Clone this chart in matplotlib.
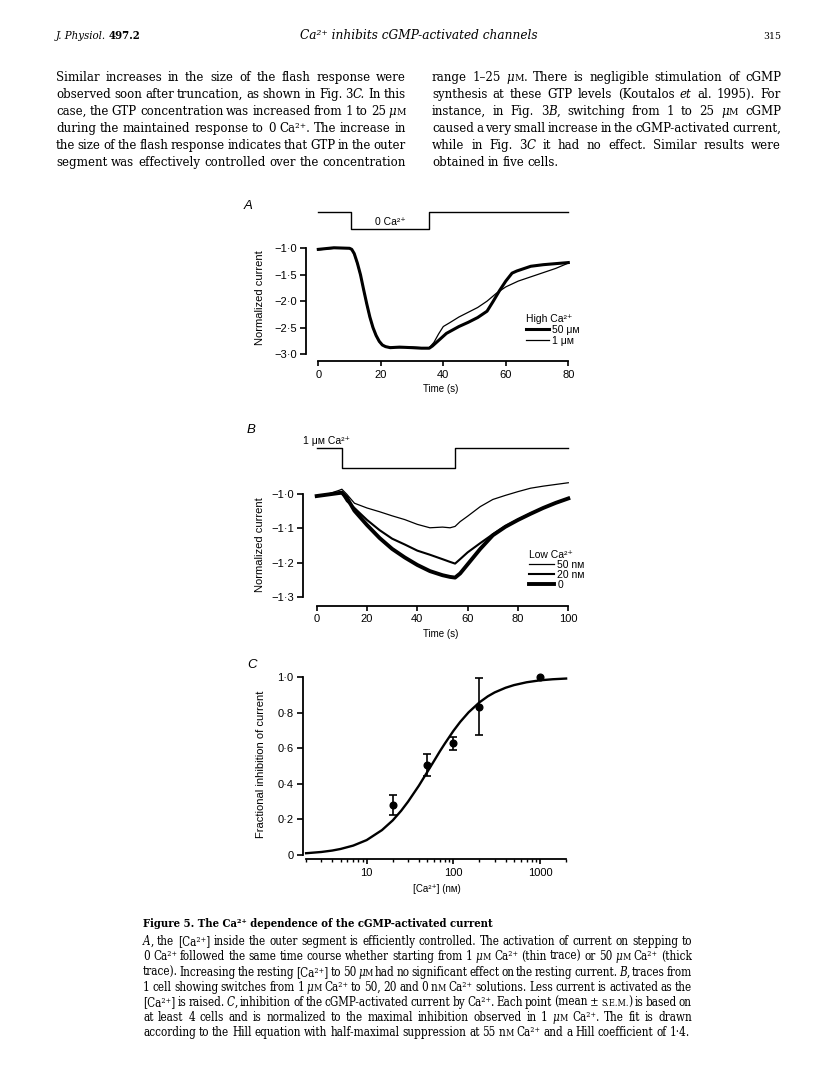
import numpy as np
import matplotlib
matplotlib.use('Agg')
import matplotlib.pyplot as plt
from matplotlib.ticker import LogLocator, NullFormatter

# ---- data ----
# A: normalized current, switching to 0 Ca2+ from 50 uM (thick) or 1 uM (thin)
a_stim_time = [0, 10.5, 35.5, 80]
a_stim_level = [1, 0, 1, 1]
a_time_50 = [0, 5, 10, 10.7, 11.5, 12.5, 13.5, 14.5, 15.5, 16.5, 17.5, 18.5, 19.5, 20.5, 21.5,
             23, 26, 30, 33, 35.5, 36.5, 38, 41, 45, 48, 51, 54, 56, 58, 60, 62, 63.5, 65,
             68, 72, 76, 80]
a_curr_50 = [-1.02, -0.99, -1.0, -1.02, -1.1, -1.28, -1.5, -1.78, -2.05, -2.3, -2.5, -2.65,
             -2.76, -2.83, -2.86, -2.88, -2.87, -2.88, -2.89, -2.89, -2.85, -2.77, -2.61,
             -2.48, -2.40, -2.31, -2.19, -2.0, -1.80, -1.62, -1.47, -1.43, -1.40, -1.34,
             -1.31, -1.29, -1.27]
a_time_1 = [0, 5, 10, 10.7, 11.5, 12.5, 13.5, 14.5, 15.5, 16.5, 17.5, 18.5, 19.5, 20.5, 21.5,
            23, 26, 30, 33, 35.5, 37, 38.5, 40, 42, 45, 48, 51, 54, 57, 60, 64, 68, 72, 76, 80]
a_curr_1 = [-1.03, -1.0, -1.0, -1.03, -1.12, -1.3, -1.52, -1.8, -2.07, -2.32, -2.52, -2.66,
            -2.77, -2.83, -2.86, -2.87, -2.88, -2.87, -2.88, -2.88, -2.78, -2.62, -2.48,
            -2.41, -2.3, -2.21, -2.12, -2.0, -1.85, -1.73, -1.62, -1.54, -1.46, -1.38, -1.28]
a_yticks = [-1.0, -1.5, -2.0, -2.5, -3.0]
a_xticks = [0, 20, 40, 60, 80]

# B: switches from 1 uM Ca2+ to 50, 20 and 0 nM
b_stim_time = [0, 10, 55, 100]
b_stim_level = [1, 0, 1, 1]
b_time = [0, 5, 9, 10, 12, 15, 20, 25, 30, 35, 40, 45, 50, 53, 55, 57, 60, 65, 70, 75, 80,
          85, 90, 95, 100]
b_curr_50nm = [-1.005, -0.998, -0.988, -0.985, -1.0, -1.026, -1.04, -1.051, -1.063, -1.074,
               -1.088, -1.098, -1.096, -1.098, -1.094, -1.08, -1.064, -1.036, -1.015, -1.003,
               -0.992, -0.982, -0.976, -0.971, -0.966]
b_curr_20nm = [-1.005, -1.0, -0.997, -0.996, -1.02, -1.04, -1.075, -1.105, -1.13, -1.147,
               -1.165, -1.177, -1.19, -1.198, -1.203, -1.19, -1.17, -1.143, -1.117, -1.093,
               -1.074, -1.056, -1.04, -1.025, -1.012]
b_curr_0 = [-1.005, -1.0, -0.996, -0.995, -1.01, -1.048, -1.09, -1.128, -1.16, -1.185, -1.207,
            -1.225, -1.237, -1.242, -1.244, -1.232, -1.205, -1.16, -1.12, -1.095, -1.075,
            -1.057, -1.04, -1.025, -1.012]
b_yticks = [-1.0, -1.1, -1.2, -1.3]
b_xticks = [0, 20, 40, 60, 80, 100]

# C: fractional inhibition vs [Ca2+] (nM), mean +/- s.e.m. and Hill fit
c_conc = [20, 50, 100, 200, 1000]
c_inhib = [0.28, 0.507, 0.628, 0.835, 1.0]
c_sem = [0.057, 0.061, 0.038, 0.16, 0.0]
c_fit_conc = [2, 3, 4, 5, 7, 10, 15, 20, 25, 30, 40, 50, 60, 70, 80, 100, 120, 150, 200, 250,
              300, 400, 500, 700, 1000, 1400, 2000]
c_fit_inhib = [0.010, 0.017, 0.025, 0.034, 0.053, 0.084, 0.140, 0.195, 0.249, 0.300, 0.390,
               0.467, 0.530, 0.584, 0.628, 0.698, 0.749, 0.803, 0.859, 0.893, 0.915, 0.941,
               0.956, 0.972, 0.983, 0.989, 0.993]
c_yticks = [0, 0.2, 0.4, 0.6, 0.8, 1.0]
c_xticks = [10, 100, 1000]

# ---- page text ----
body_left = [
    "Similar increases in the size of the flash response were",
    "observed soon after truncation, as shown in Fig. 3_C._ In this",
    "case, the GTP concentration was increased from 1 to 25 _μ_~M~",
    "during the maintained response to 0 Ca²⁺. The increase in",
    "the size of the flash response indicates that GTP in the outer",
    "segment was effectively controlled over the concentration",
]
body_right = [
    "range 1–25 _μ_~M~. There is negligible stimulation of cGMP",
    "synthesis at these GTP levels (Koutalos _et al._ 1995). For",
    "instance, in Fig. 3_B_, switching from 1 to 25 _μ_~M~ cGMP",
    "caused a very small increase in the cGMP-activated current,",
    "while in Fig. 3_C_ it had no effect. Similar results were",
    "obtained in five cells.",
]
caption = [
    "_A_, the [Ca²⁺] inside the outer segment is efficiently controlled. The activation of current on stepping to",
    "0 Ca²⁺ followed the same time course whether starting from 1 _μ_~M~ Ca²⁺ (thin trace) or 50 _μ_~M~ Ca²⁺ (thick",
    "trace). Increasing the resting [Ca²⁺] to 50 _μ_~M~ had no significant effect on the resting current. _B_, traces from",
    "1 cell showing switches from 1 _μ_~M~ Ca²⁺ to 50, 20 and 0 n~M~ Ca²⁺ solutions. Less current is activated as the",
    "[Ca²⁺] is raised. _C_, inhibition of the cGMP-activated current by Ca²⁺. Each point (mean ± ~S.E.M.~) is based on",
    "at least 4 cells and is normalized to the maximal inhibition observed in 1 _μ_~M~ Ca²⁺. The fit is drawn",
    "according to the Hill equation with half-maximal suppression at 55 n~M~ Ca²⁺ and a Hill coefficient of 1·4.",
]

SERIF = ['DejaVu Serif']
STRETCH = 'condensed'
SANS = ['Liberation Sans', 'DejaVu Sans']
plt.rcParams['font.family'] = SANS
plt.rcParams['axes.linewidth'] = 1.3

W, H = 816, 1088
fig = plt.figure(figsize=(W / 100, H / 100), dpi=100)
renderer = fig.canvas.get_renderer()

TICK = 8
XLAB = 7
YLAB = 8
LEG = 7.5


def fx(x):
    return x / W


def fy(y):
    return 1 - y / H


def axes_px(box):
    l, t, r, b = box
    return fig.add_axes([fx(l), fy(b), (r - l) / W, (b - t) / H])


def to_axes(box, x, y):
    l, t, r, b = box
    return (x - l) / (r - l), (b - y) / (b - t)


def fmt(v):
    s = '0' if v == 0 else f'{v:.1f}'
    return s.replace('-', '−').replace('.', '·')


def style_axes(ax, left_out, bottom_out, ybounds, xbounds):
    for s in ('top', 'right'):
        ax.spines[s].set_visible(False)
    ax.spines['left'].set_position(('outward', left_out * 0.72))
    ax.spines['bottom'].set_position(('outward', bottom_out * 0.72))
    ax.spines['left'].set_bounds(*ybounds)
    ax.spines['bottom'].set_bounds(*xbounds)
    ax.tick_params(axis='y', direction='out', length=4.3, width=1.2, pad=2.5, labelsize=TICK)
    ax.tick_params(axis='x', direction='out', length=3.8, width=1.2, pad=2.5, labelsize=TICK)
    ax.patch.set_visible(False)


# ---- justified serif text ----
SMALL = 0.78


def parse_word(word):
    segs, buf, it, sm = [], '', False, False
    for ch in word:
        if ch in '_~':
            if buf:
                segs.append((buf, it, sm))
                buf = ''
            if ch == '_':
                it = not it
            else:
                sm = not sm
        else:
            buf += ch
    if buf:
        segs.append((buf, it, sm))
    return segs


def set_blocks(blocks, base=10.0, fill=0.995):
    built = []
    for lines, x0, x1, y0, dy, just_last in blocks:
        rows = []
        for line in lines:
            words = []
            for w in line.split():
                arts = []
                for txt, it, sm in parse_word(w):
                    k = SMALL if sm else 1.0
                    t = fig.text(0, 0, txt, family=SERIF, stretch=STRETCH, fontsize=base * k,
                                 style='italic' if it else 'normal', va='baseline')
                    arts.append((t, k))
                words.append(arts)
            rows.append(words)
        built.append(rows)

    def widths(words):
        return [[t.get_window_extent(renderer).width for t, k in arts] for arts in words]

    space0 = 0.16 * base * 100 / 72
    scale = 10.0
    for rows, (lines, x0, x1, y0, dy, just_last) in zip(built, blocks):
        for words in rows:
            nat = sum(sum(w) for w in widths(words)) + space0 * (len(words) - 1)
            scale = min(scale, fill * (x1 - x0) / nat)
    size = base * scale
    space = 0.25 * size * 100 / 72
    for rows, (lines, x0, x1, y0, dy, just_last) in zip(built, blocks):
        for i, words in enumerate(rows):
            for arts in words:
                for t, k in arts:
                    t.set_fontsize(size * k)
            ww = widths(words)
            total = sum(sum(w) for w in ww)
            last = i == len(rows) - 1
            if len(words) > 1 and (not last or just_last):
                gap = (x1 - x0 - total) / (len(words) - 1)
            else:
                gap = space
            x = x0
            y = round(y0 + i * dy)
            for arts, wl in zip(words, ww):
                for (t, k), w in zip(arts, wl):
                    t.set_position((fx(x), fy(y)))
                    x += w
                x += gap
    return size


def fit_text(x, y, s, width, **kw):
    t = fig.text(fx(x), fy(y), s, fontsize=10, va='baseline', family=SERIF, stretch=STRETCH,
                 **kw)
    w = t.get_window_extent(renderer).width
    t.set_fontsize(10 * width / w)
    return t


# header
hl = fit_text(56, 39, 'J. Physiol.', 50, style='italic')
fig.text(fx(108.5), fy(39), '497.2', fontsize=hl.get_fontsize(), weight='bold',
         va='baseline', family=SERIF, stretch=STRETCH)
fit_text(418.5, 39, 'Ca²⁺ inhibits cGMP-activated channels', 237, style='italic', ha='center')
fit_text(781, 39, '315', 18, ha='right')

set_blocks([(body_left, 56, 406, 81, 17, True),
            (body_right, 432, 781, 81, 17, False)])
fit_text(143, 927, 'Figure 5. The Ca²⁺ dependence of the cGMP-activated current', 353,
         weight='bold')
set_blocks([(caption, 143, 692, 945, 15.25, False)])

# ---- panel A ----
fig.text(fx(248), fy(206), 'A', style='italic', fontsize=9.5, ha='center', va='center')
box_sa = (318.3, 211.7, 568.3, 229.3)
sa = axes_px(box_sa)
sa.step(a_stim_time, a_stim_level, where='post', color='black', lw=1.0, clip_on=False)
sa.set_xlim(0, 80)
sa.set_ylim(0, 1)
sa.axis('off')
sa.text(23, 0.42, '0 Ca²⁺', ha='center', va='center', fontsize=LEG)

box_a = (318.3, 248.3, 568.3, 354)
axA = axes_px(box_a)
axA.plot(a_time_50, a_curr_50, color='black', lw=2.2, label='50 μᴍ', clip_on=False, zorder=3)
axA.plot(a_time_1, a_curr_1, color='black', lw=0.9, label='1 μᴍ', clip_on=False, zorder=2)
axA.set_xlim(0, 80)
axA.set_ylim(-3.0, -1.0)
style_axes(axA, 12.3, 7, (-3.0, -1.0), (0, 80))
axA.set_yticks(a_yticks, [fmt(v) for v in a_yticks])
axA.set_xticks(a_xticks, [str(v) for v in a_xticks])
axA.set_ylabel('Normalized current', fontsize=YLAB)
axA.yaxis.set_label_coords(*to_axes(box_a, 265, 298))
axA.set_xlabel('Time (s)', fontsize=XLAB)
axA.xaxis.set_label_coords(*to_axes(box_a, 441, 384))
axA.legend(title='High Ca²⁺', loc='upper left', bbox_to_anchor=(fx(526), fy(314)),
           bbox_transform=fig.transFigure, frameon=False, fontsize=LEG, title_fontsize=LEG,
           borderpad=0, borderaxespad=0, handlelength=2.2, handletextpad=0.3,
           labelspacing=0.1, alignment='left')

# ---- panel B ----
fig.text(fx(251), fy(430), 'B', style='italic', fontsize=9.5, ha='center', va='center')
box_sb = (316.7, 448.3, 568.3, 467.7)
sb = axes_px(box_sb)
sb.step(b_stim_time, b_stim_level, where='post', color='black', lw=1.0, clip_on=False)
sb.set_xlim(0, 100)
sb.set_ylim(0, 1)
sb.axis('off')
fig.text(fx(303.3), fy(441), '1 μᴍ Ca²⁺', fontsize=LEG, va='center')

box_b = (316.7, 480.7, 568.3, 596.7)
axB = axes_px(box_b)
axB.plot(b_time, b_curr_50nm, color='black', lw=0.9, label='50 nᴍ', clip_on=False)
axB.plot(b_time, b_curr_20nm, color='black', lw=1.5, label='20 nᴍ', clip_on=False)
axB.plot(b_time, b_curr_0, color='black', lw=2.8, label='0', clip_on=False)
axB.set_xlim(0, 100)
axB.set_ylim(-1.3, -0.96)
style_axes(axB, 13.4, 9, (-1.3, -1.0), (0, 100))
axB.set_yticks(b_yticks, [fmt(v) for v in b_yticks])
axB.set_xticks(b_xticks, [str(v) for v in b_xticks])
axB.set_ylabel('Normalized current', fontsize=YLAB)
axB.yaxis.set_label_coords(*to_axes(box_b, 265, 545))
axB.set_xlabel('Time (s)', fontsize=XLAB)
axB.xaxis.set_label_coords(*to_axes(box_b, 441, 629))
axB.legend(title='Low Ca²⁺', loc='upper left', bbox_to_anchor=(fx(529), fy(550)),
           bbox_transform=fig.transFigure, frameon=False, fontsize=LEG, title_fontsize=LEG,
           borderpad=0, borderaxespad=0, handlelength=2.4, handletextpad=0.3,
           labelspacing=0.0, alignment='left')

# ---- panel C ----
fig.text(fx(252), fy(665), 'C', style='italic', fontsize=9.5, ha='center', va='center')
box_c = (306.1, 677.3, 566.1, 855)
axC = axes_px(box_c)
axC.plot(c_fit_conc, c_fit_inhib, color='black', lw=1.7, clip_on=False)
conc = np.array(c_conc)
inhib = np.array(c_inhib)
sem = np.array(c_sem)
has = sem > 0
axC.errorbar(conc[has], inhib[has], yerr=sem[has], fmt='none', ecolor='black',
             elinewidth=1.2, capsize=3, capthick=1.2, clip_on=False)
axC.plot(conc, inhib, 'o', color='black', ms=4.8, clip_on=False)
axC.set_xscale('log')
axC.set_xlim(2, 2000)
axC.set_ylim(0, 1.0)
style_axes(axC, 3.4, 4.3, (0, 1.0), (2, 2000))
axC.set_yticks(c_yticks, [fmt(v) for v in c_yticks])
axC.set_xticks(c_xticks, [str(v) for v in c_xticks])
axC.xaxis.set_minor_locator(LogLocator(base=10, subs=np.arange(2, 10)))
axC.xaxis.set_minor_formatter(NullFormatter())
axC.tick_params(which='minor', direction='out', length=2.4, width=1.0)
axC.set_ylabel('Fractional inhibition of current', fontsize=YLAB)
axC.yaxis.set_label_coords(*to_axes(box_c, 266, 764))
axC.set_xlabel('[Ca²⁺] (nᴍ)', fontsize=XLAB)
axC.xaxis.set_label_coords(*to_axes(box_c, 437, 884))

fig.savefig('out.png', dpi=100)
